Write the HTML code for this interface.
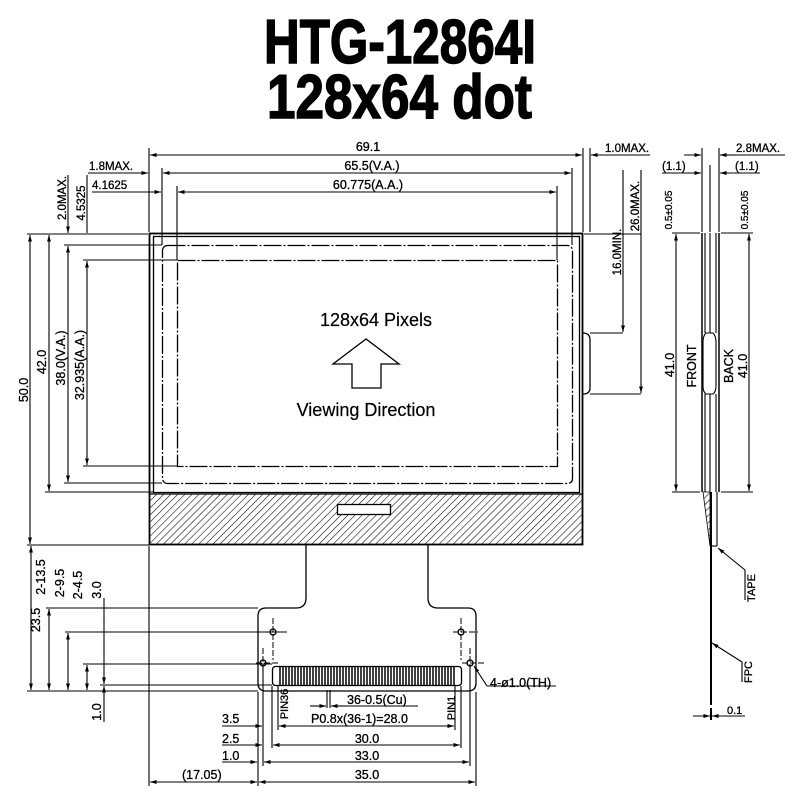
<!DOCTYPE html>
<html><head><meta charset="utf-8"><style>body{margin:0;background:#fff}svg{display:block}</style></head><body>
<svg width="800" height="800" viewBox="0 0 800 800" xmlns="http://www.w3.org/2000/svg" font-family="Liberation Sans, sans-serif">
<defs>
<pattern id="h" width="5" height="5" patternUnits="userSpaceOnUse" patternTransform="rotate(45)"><line x1="0" y1="0" x2="0" y2="5" stroke="#000" stroke-width="1.1"/></pattern>
<marker id="a" viewBox="0 0 10 6" refX="10" refY="3" markerWidth="6" markerHeight="4" orient="auto-start-reverse"><path d="M0,0L10,3L0,6z" fill="#000"/></marker>
</defs>
<rect width="800" height="800" fill="#fff"/>
<text x="264" y="63" font-size="62" font-weight="bold" textLength="272" lengthAdjust="spacingAndGlyphs" stroke="#000" stroke-width="1.5">HTG-12864I</text>
<text x="267" y="118" font-size="62" font-weight="bold" textLength="265" lengthAdjust="spacingAndGlyphs" stroke="#000" stroke-width="1.5">128x64 dot</text>

<g stroke="#000" fill="none" stroke-width="1.3">
<rect x="149.5" y="233.5" width="433" height="311" stroke-width="1.8"/>
<rect x="153.5" y="236.5" width="426" height="256"/>
<rect x="150" y="494" width="432" height="50" fill="url(#h)" stroke="none"/>
<line x1="149" y1="494" x2="583" y2="494"/>
<rect x="337.5" y="504.5" width="53" height="10" fill="#fff"/>
<rect x="162.5" y="245.5" width="410" height="238" rx="5" stroke-dasharray="18,2,2,2"/>
<rect x="177.5" y="260.5" width="380" height="206" stroke-dasharray="18,2,2,2"/>
<path d="M366,339 L333,364 L352,364 L352,388 L381,388 L381,364 L399,364 Z"/>
<path d="M583,333 Q590,333 590,340 L590,388 Q590,394 583,394"/>
<path d="M306,545 V598 Q306,608 296,608 H266 Q258,608 258,616 V683 Q258,691 266,691 H468 Q476,691 476,683 V616 Q476,608 468,608 H438 Q428,608 428,598 V545"/>
<rect x="272.5" y="666.5" width="189" height="19" rx="3"/>
<circle cx="273" cy="632" r="3"/><circle cx="461" cy="632" r="3"/>
<circle cx="263" cy="663" r="3"/><circle cx="470" cy="663" r="3"/>
<g stroke-dasharray="6,2" stroke-width="1"><line x1="273" y1="618" x2="273" y2="660"/><line x1="461" y1="618" x2="461" y2="660"/><line x1="263" y1="648" x2="263" y2="676"/><line x1="470" y1="648" x2="470" y2="676"/><line x1="256" y1="663" x2="280" y2="663"/><line x1="453" y1="632" x2="478" y2="632"/><line x1="462" y1="663" x2="486" y2="663"/></g>
</g>
<g stroke="#000" stroke-width="1.5">
<path d="M280,667v18M283,667v18M286,667v18M289,667v18M292,667v18M295,667v18M298,667v18M301,667v18M304,667v18M307,667v18M310,667v18M313,667v18M316,667v18M319,667v18M322,667v18M325,667v18M328,667v18M331,667v18M334,667v18M337,667v18M340,667v18M343,667v18M346,667v18M349,667v18M352,667v18M355,667v18M358,667v18M361,667v18M364,667v18M367,667v18M370,667v18M373,667v18M376,667v18M379,667v18M382,667v18M385,667v18M388,667v18M391,667v18M394,667v18M397,667v18M400,667v18M403,667v18M406,667v18M409,667v18M412,667v18M415,667v18M418,667v18M421,667v18M424,667v18M427,667v18M430,667v18M433,667v18M436,667v18M439,667v18M442,667v18M445,667v18M448,667v18M451,667v18M454,667v18"/>
</g>

<g stroke="#000" fill="none" stroke-width="1.1">
<line x1="149" y1="148" x2="149" y2="232"/><line x1="162" y1="168" x2="162" y2="245"/><line x1="177" y1="186" x2="177" y2="260"/>
<line x1="583" y1="148" x2="583" y2="232"/><line x1="590" y1="148" x2="590" y2="232"/><line x1="572" y1="168" x2="572" y2="245"/><line x1="557" y1="186" x2="557" y2="260"/>
<line x1="150" y1="155" x2="582" y2="155" marker-start="url(#a)" marker-end="url(#a)"/>
<line x1="163" y1="173" x2="571" y2="173" marker-start="url(#a)" marker-end="url(#a)"/>
<line x1="178" y1="192" x2="556" y2="192" marker-start="url(#a)" marker-end="url(#a)"/>
<line x1="88" y1="173" x2="148" y2="173" marker-end="url(#a)"/>
<line x1="92" y1="192" x2="161" y2="192" marker-end="url(#a)"/>
<line x1="591" y1="155" x2="650" y2="155" marker-start="url(#a)"/>
<line x1="27" y1="234" x2="148" y2="234"/><line x1="64" y1="245" x2="162" y2="245"/><line x1="83" y1="260" x2="177" y2="260"/>
<line x1="83" y1="466" x2="177" y2="466"/><line x1="64" y1="483" x2="162" y2="483"/><line x1="45" y1="492" x2="153" y2="492"/><line x1="27" y1="545" x2="149" y2="545"/>
<line x1="30" y1="235" x2="30" y2="544" marker-start="url(#a)" marker-end="url(#a)"/>
<line x1="49" y1="235" x2="49" y2="491" marker-start="url(#a)" marker-end="url(#a)"/>
<line x1="68" y1="175" x2="68" y2="233" marker-end="url(#a)"/>
<line x1="68" y1="246" x2="68" y2="482" marker-start="url(#a)" marker-end="url(#a)"/>
<line x1="87" y1="175" x2="87" y2="233"/>
<line x1="87" y1="261" x2="87" y2="465" marker-start="url(#a)" marker-end="url(#a)"/>
<line x1="590" y1="333" x2="623" y2="333"/><line x1="590" y1="394" x2="641" y2="394"/>
<line x1="584" y1="234" x2="641" y2="234"/>
<line x1="623" y1="170" x2="623" y2="332" marker-end="url(#a)"/>
<line x1="641" y1="170" x2="641" y2="393" marker-end="url(#a)"/>
<line x1="46" y1="608" x2="258" y2="608"/><line x1="65" y1="632" x2="287" y2="632"/>
<line x1="83" y1="664" x2="272" y2="664"/><line x1="100" y1="685" x2="272" y2="685"/><line x1="27" y1="691" x2="258" y2="691"/>
<line x1="31" y1="546" x2="31" y2="690" marker-start="url(#a)" marker-end="url(#a)"/>
<line x1="49" y1="609" x2="49" y2="690" marker-start="url(#a)" marker-end="url(#a)"/>
<line x1="68" y1="633" x2="68" y2="690" marker-start="url(#a)" marker-end="url(#a)"/>
<line x1="87" y1="665" x2="87" y2="690" marker-start="url(#a)" marker-end="url(#a)"/>
<line x1="104" y1="598" x2="104" y2="684" marker-end="url(#a)"/>
<line x1="104" y1="686" x2="104" y2="722" marker-start="url(#a)"/>
<line x1="149" y1="546" x2="149" y2="786"/><line x1="258" y1="692" x2="258" y2="786"/><line x1="476" y1="692" x2="476" y2="786"/>
<line x1="263" y1="666" x2="263" y2="766"/><line x1="470" y1="666" x2="470" y2="766"/>
<line x1="272" y1="686" x2="272" y2="748"/><line x1="461" y1="686" x2="461" y2="748"/>
<line x1="278" y1="686" x2="278" y2="730"/><line x1="455" y1="686" x2="455" y2="730"/>
<line x1="150" y1="782" x2="257" y2="782" marker-start="url(#a)" marker-end="url(#a)"/>
<line x1="259" y1="782" x2="475" y2="782" marker-start="url(#a)" marker-end="url(#a)"/>
<line x1="222" y1="762" x2="257" y2="762" marker-end="url(#a)"/>
<line x1="264" y1="762" x2="469" y2="762" marker-start="url(#a)" marker-end="url(#a)"/>
<line x1="222" y1="745" x2="262" y2="745" marker-end="url(#a)"/>
<line x1="273" y1="745" x2="460" y2="745" marker-start="url(#a)" marker-end="url(#a)"/>
<line x1="222" y1="726" x2="262" y2="726" marker-end="url(#a)"/>
<line x1="279" y1="726" x2="454" y2="726" marker-start="url(#a)" marker-end="url(#a)"/>
<line x1="327" y1="690" x2="327" y2="708"/><line x1="330" y1="690" x2="330" y2="708"/>
<line x1="310" y1="706" x2="326" y2="706" marker-end="url(#a)"/>
<line x1="346" y1="706" x2="331" y2="706" marker-end="url(#a)"/>
<line x1="346" y1="706" x2="418" y2="706"/>
<line x1="487" y1="686" x2="474" y2="666" marker-end="url(#a)"/>
<line x1="487" y1="686" x2="556" y2="686"/>
<g stroke-width="1.5"><line x1="702" y1="233" x2="702" y2="492"/><line x1="719" y1="233" x2="719" y2="492"/></g>
<line x1="705" y1="233" x2="705" y2="333"/><line x1="705" y1="394" x2="705" y2="492"/>
<line x1="710" y1="233" x2="710" y2="333"/><line x1="710" y1="394" x2="710" y2="492"/>
<line x1="716" y1="233" x2="716" y2="333"/><line x1="716" y1="394" x2="716" y2="492"/>
<path d="M706,333 Q703,336 703,342 V386 Q703,392 706,394 H713 Q716,392 716,386 V342 Q716,336 713,333 Z" fill="#fff"/>
<line x1="702" y1="148" x2="702" y2="232"/><line x1="719" y1="148" x2="719" y2="232"/><line x1="710" y1="165" x2="710" y2="232"/>
<line x1="672" y1="233" x2="700" y2="233"/><line x1="721" y1="233" x2="753" y2="233"/>
<line x1="672" y1="492" x2="700" y2="492"/><line x1="721" y1="492" x2="753" y2="492"/>
<line x1="676" y1="234" x2="676" y2="491" marker-start="url(#a)" marker-end="url(#a)"/>
<line x1="749" y1="234" x2="749" y2="491" marker-start="url(#a)" marker-end="url(#a)"/>
<line x1="684" y1="155" x2="701" y2="155" marker-end="url(#a)"/>
<line x1="735" y1="155" x2="720" y2="155" marker-end="url(#a)"/>
<line x1="735" y1="155" x2="785" y2="155"/>
<line x1="662" y1="173" x2="701" y2="173" marker-end="url(#a)"/>
<line x1="760" y1="173" x2="720" y2="173" marker-end="url(#a)"/>
<line x1="711" y1="492" x2="711" y2="705" stroke-width="2"/>
<line x1="711" y1="708" x2="711" y2="720" stroke-width="2"/>
<line x1="717" y1="492" x2="717" y2="546"/><line x1="711" y1="546" x2="717" y2="546"/>
<line x1="745" y1="570" x2="718" y2="548" marker-end="url(#a)"/>
<line x1="745" y1="570" x2="745" y2="600"/>
<line x1="742" y1="662" x2="712" y2="643" marker-end="url(#a)"/>
<line x1="742" y1="662" x2="742" y2="682"/>
<line x1="693" y1="716" x2="710" y2="716" marker-end="url(#a)"/>
<line x1="745" y1="716" x2="712" y2="716" marker-end="url(#a)"/>
</g>
<path d="M703,492 L710,492 L710,546 Z" fill="url(#h)" stroke="#000" stroke-width="0.8"/>

<g font-size="12.5" fill="#000" stroke="#000" stroke-width="0.3">
<text x="368" y="151" text-anchor="middle">69.1</text>
<text x="372" y="170" text-anchor="middle">65.5(V.A.)</text>
<text x="368" y="189" text-anchor="middle">60.775(A.A.)</text>
<text x="89" y="170" font-size="11.5">1.8MAX.</text>
<text x="92" y="189" font-size="11.5">4.1625</text>
<text x="605" y="152" font-size="11.5">1.0MAX.</text>
<text x="736" y="152" font-size="11.5">2.8MAX.</text>
<text x="662" y="170" font-size="11.5">(1.1)</text>
<text x="735" y="170" font-size="11.5">(1.1)</text>
<text transform="translate(66,198) rotate(-90)" text-anchor="middle" font-size="11.5">2.0MAX.</text>
<text transform="translate(85,203) rotate(-90)" text-anchor="middle" font-size="11.5">4.5325</text>
<text transform="translate(621,252) rotate(-90)" text-anchor="middle" font-size="11.5">16.0MIN.</text>
<text transform="translate(639,206) rotate(-90)" text-anchor="middle" font-size="11.5">26.0MAX.</text>
<text transform="translate(28,390) rotate(-90)" text-anchor="middle">50.0</text>
<text transform="translate(46,362) rotate(-90)" text-anchor="middle">42.0</text>
<text transform="translate(65,358) rotate(-90)" text-anchor="middle">38.0(V.A.)</text>
<text transform="translate(84,365) rotate(-90)" text-anchor="middle">32.935(A.A.)</text>
<text transform="translate(674,365) rotate(-90)" text-anchor="middle">41.0</text>
<text transform="translate(696,366) rotate(-90)" text-anchor="middle">FRONT</text>
<text transform="translate(733,366) rotate(-90)" text-anchor="middle">BACK</text>
<text transform="translate(747,366) rotate(-90)" text-anchor="middle">41.0</text>
<text transform="translate(672,210) rotate(-90)" text-anchor="middle" font-size="10">0.5±0.05</text>
<text transform="translate(748,210) rotate(-90)" text-anchor="middle" font-size="10">0.5±0.05</text>
<text x="376" y="326" text-anchor="middle" font-size="18" stroke-width="0.2">128x64 Pixels</text>
<text x="366" y="416" text-anchor="middle" font-size="18" stroke-width="0.2">Viewing Direction</text>
<text transform="translate(40,620) rotate(-90)" text-anchor="middle">23.5</text>
<text transform="translate(45,577) rotate(-90)" text-anchor="middle">2-13.5</text>
<text transform="translate(64,583) rotate(-90)" text-anchor="middle">2-9.5</text>
<text transform="translate(82,585) rotate(-90)" text-anchor="middle">2-4.5</text>
<text transform="translate(101,590) rotate(-90)" text-anchor="middle">3.0</text>
<text transform="translate(101,712) rotate(-90)" text-anchor="middle">1.0</text>
<text transform="translate(288,704) rotate(-90)" text-anchor="middle" font-size="11">PIN36</text>
<text transform="translate(455,708) rotate(-90)" text-anchor="middle" font-size="11">PIN1</text>
<text x="347" y="704">36-0.5(Cu)</text>
<text x="311" y="723">P0.8x(36-1)=28.0</text>
<text x="490" y="687">4-ø1.0(TH)</text>
<text x="222" y="723">3.5</text>
<text x="222" y="743">2.5</text>
<text x="222" y="760">1.0</text>
<text x="182" y="779">(17.05)</text>
<text x="367" y="743" text-anchor="middle">30.0</text>
<text x="367" y="760" text-anchor="middle">33.0</text>
<text x="367" y="779" text-anchor="middle">35.0</text>
<text transform="translate(755,588) rotate(-90)" text-anchor="middle" font-size="11">TAPE</text>
<text transform="translate(752,672) rotate(-90)" text-anchor="middle" font-size="11">FPC</text>
<text x="727" y="714" font-size="11">0.1</text>
</g>
</svg>
</body></html>
